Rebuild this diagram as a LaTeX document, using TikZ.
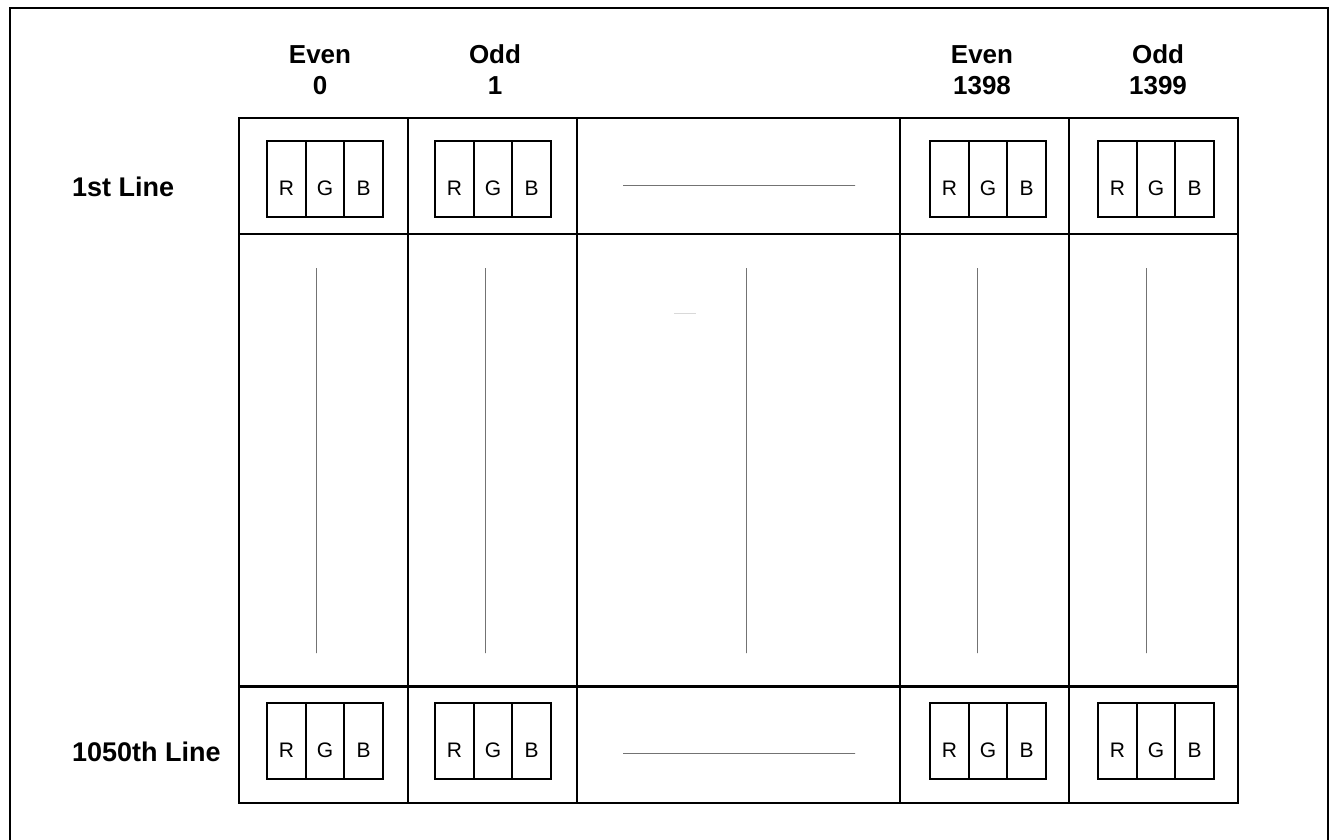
\documentclass[tikz,border=0pt]{standalone}
\usepackage{fontspec}
\setmainfont{Liberation Sans}
\begin{document}
\begin{tikzpicture}[x=1pt,y=-1pt,
  cellbox/.style={draw=black,line width=2pt,inner sep=0pt,minimum width=#1,minimum height=116pt},
  midbox/.style={draw=black,line width=2pt,inner sep=0pt,minimum width=#1,minimum height=452pt},
  subbox/.style={draw=black,line width=2pt,inner sep=0pt,minimum width=38.67pt,minimum height=76pt},
  rgbtext/.style={font=\fontsize{21}{23}\selectfont,inner sep=0pt},
  headtext/.style={font=\bfseries\fontsize{26}{31}\selectfont,align=center,inner sep=0pt},
  rowtext/.style={font=\bfseries\fontsize{27}{30}\selectfont,anchor=west,inner sep=0pt},
  dotline/.style={draw=black!55,line width=1pt,dash pattern=on 0.6pt off 0.4pt},
  faintline/.style={draw=black!15,line width=0.8pt}]
\useasboundingbox (0,0) rectangle (1329,839);
% outer frame (open at the bottom edge)
\draw[line width=2.2pt] (10,845) -- (10,8) -- (1328,8) -- (1328,845);

% headers
\node[headtext] (h0) at (320,70) {Even\\0};
\node[headtext] (h1) at (495,70) {Odd\\1};
\node[headtext] (h3) at (982,70) {Even\\1398};
\node[headtext] (h4) at (1158,70) {Odd\\1399};

% row labels
\node[rowtext] (l1) at (72,187) {1st Line};
\node[rowtext] (l2) at (72,752) {1050th Line};

% grid cells
\foreach \n/\cx/\w in {0/323.5/169,1/492.5/169,2/738.5/323,3/984.5/169,4/1153.5/169}{
  \node[cellbox=\w pt] (t\n) at (\cx,176) {};
  \node[midbox=\w pt] (m\n) at (\cx,460) {};
  \node[cellbox=\w pt] (b\n) at (\cx,745) {};
}

% RGB boxes
\foreach \n/\lx in {0/267,1/435,3/930,4/1098}{
  \foreach \r/\y in {t/179,b/741}{
    \node[subbox] (\r\n R) at (\lx+19.33,\y) {};
    \node[subbox] (\r\n G) at (\lx+58,\y) {};
    \node[subbox] (\r\n B) at (\lx+96.67,\y) {};
    \node[rgbtext] at ([yshift=-9pt]\r\n R.center) {R};
    \node[rgbtext] at ([yshift=-9pt]\r\n G.center) {G};
    \node[rgbtext] at ([yshift=-9pt]\r\n B.center) {B};
  }
}

% horizontal dotted lines in the middle column
\draw[dotline] (623,185) -- (855,185);
\draw[dotline] (623,753) -- (855,753);

% vertical dotted lines
\foreach \x in {316,485,746,977,1146}{
  \draw[dotline] (\x,268) -- (\x,653);
}
\draw[faintline] (674,313) -- (696,313);
\end{tikzpicture}
\end{document}
